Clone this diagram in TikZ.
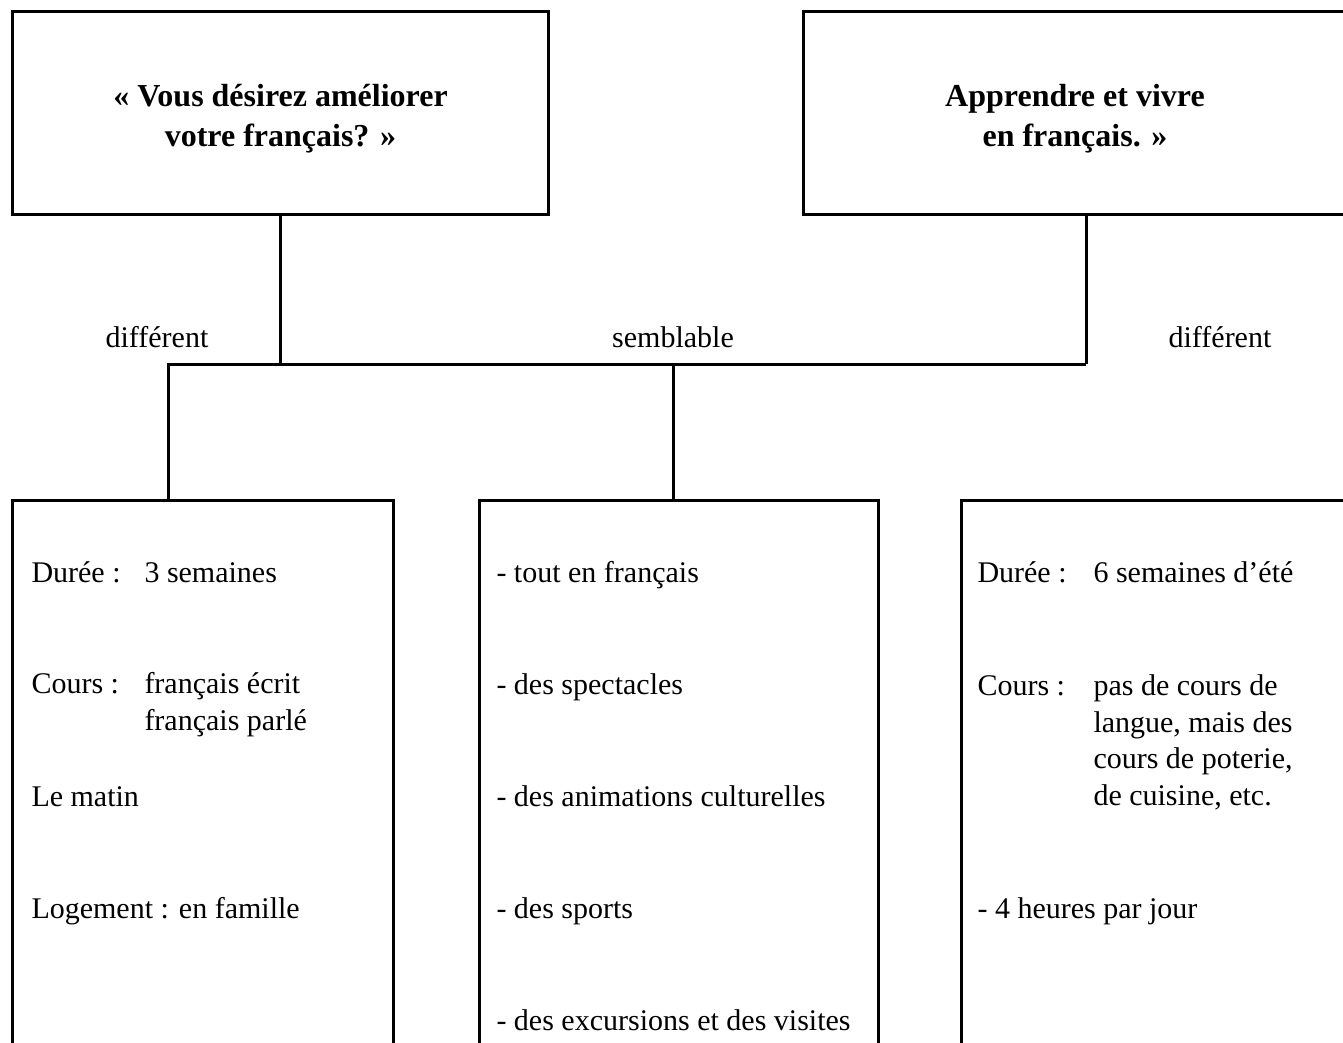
\documentclass[tikz,border=0pt]{standalone}
\usepackage{fontspec}
\setmainfont{Liberation Serif}
\begin{document}
\begin{tikzpicture}[x=1pt,y=-1pt,
  line width=3pt,
  topbox/.style={draw, line width=3pt, inner sep=0pt},
  toptxt/.style={inner sep=0pt, align=center,
    font=\fontsize{32}{40}\selectfont\bfseries},
  botbox/.style={draw, line width=3pt, inner sep=0pt, minimum height=600pt},
  txt/.style={anchor=base west, inner sep=0pt, font=\fontsize{30}{37}\selectfont},
  lbl/.style={anchor=base, inner sep=0pt, font=\fontsize{30}{37}\selectfont},
  link/.style={line width=3pt}]
\useasboundingbox (0,0) rectangle (1343,1042);
\clip (0,0) rectangle (1343,1042);

% top boxes
\node[topbox, minimum width=536pt, minimum height=203pt] (tl) at (280.5,113) {};
\node[toptxt] (tlt) at ([yshift=-6pt]tl.center) {« Vous désirez améliorer\\votre français? »};
\node[topbox, minimum width=544pt, minimum height=203pt] (tr) at (1075,113) {};
\node[toptxt] (trt) at ([yshift=-6pt]tr.center) {Apprendre et vivre\\en français. »};

% bottom boxes (open at the bottom, clipped)
\node[botbox, minimum width=381pt] (bl) at (202.5,800) {};
\node[botbox, minimum width=399pt] (bm) at (678.5,800) {};
\node[botbox, minimum width=389pt] (br) at (1155.5,800) {};

% junction coordinates
\coordinate (jl) at (168,364);
\coordinate (jm) at (673,364);
\coordinate (jr) at (1086,364);
\coordinate (trd) at (1086,214);

% connectors
\draw[link] (tl.south) -- (tl.south |- jl);
\draw[link] (trd) -- (jr);
\draw[link] (bl.north -| jl) -- (jl) -- (jr);
\draw[link] (jm) -- (bm.north -| jm);

% labels
\node[lbl] (d1) at (157,347) {différent};
\node[lbl] (s1) at (673,347) {semblable};
\node[lbl] (d2) at (1220,347) {différent};

% left box text
\node[txt] (l1) at (30,582) {Durée :};
\node[txt] (l1v) at (143,582) {3 semaines};
\node[txt] (l2) at (30,693) {Cours :};
\node[txt] (l2a) at (143,693) {français écrit};
\node[txt] (l2b) at (143,730) {français parlé};
\node[txt] (l3) at (30,806) {Le matin};
\node[txt] (l4) at (30,918) {Logement : en famille};

% middle box text
\node[txt] (m1) at (495,582) {- tout en français};
\node[txt] (m2) at (495,694) {- des spectacles};
\node[txt] (m3) at (495,806) {- des animations culturelles};
\node[txt] (m4) at (495,918) {- des sports};
\node[txt] (m5) at (495,1030) {- des excursions et des visites};

% right box text
\node[txt] (r1) at (976,582) {Durée :};
\node[txt] (r1v) at (1092,582) {6 semaines d’été};
\node[txt] (r2) at (976,695) {Cours :};
\node[txt] (r2a) at (1092,695) {pas de cours de};
\node[txt] (r2b) at (1092,732) {langue, mais des};
\node[txt] (r2c) at (1092,768) {cours de poterie,};
\node[txt] (r2d) at (1092,805) {de cuisine, etc.};
\node[txt] (r3) at (976,918) {- 4 heures par jour};
\end{tikzpicture}
\end{document}
